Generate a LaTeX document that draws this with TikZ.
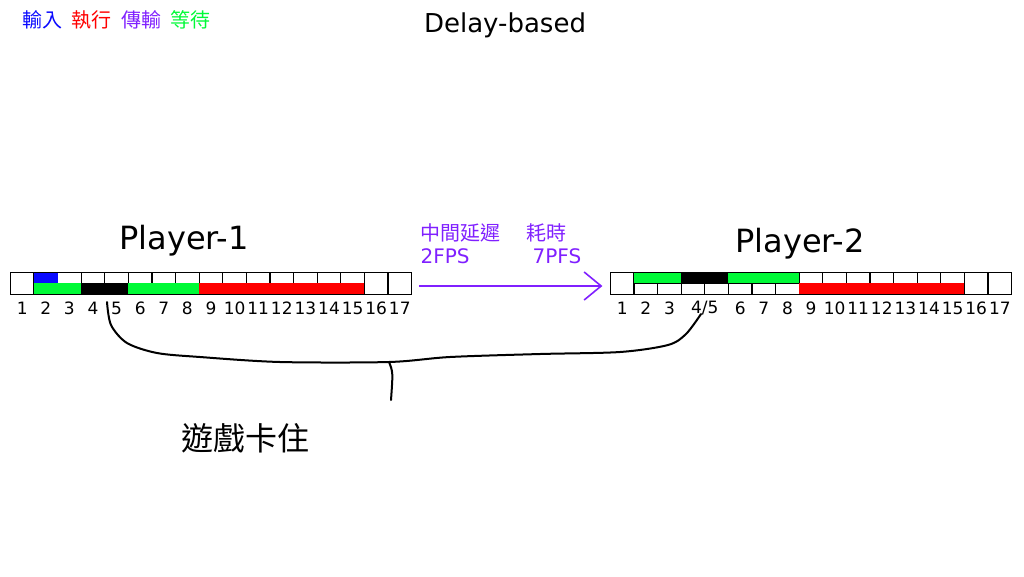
\documentclass[tikz,border=0pt]{standalone}
\usepackage{fontspec}
\setmainfont{DejaVu Sans}
\newfontfamily\cjk{Noto Sans CJK TC}
\usepackage{tikz}
\usetikzlibrary{positioning,arrows.meta}

\definecolor{inblue}{RGB}{10,10,255}
\definecolor{exred}{RGB}{255,0,0}
\definecolor{txpurple}{RGB}{128,32,255}
\definecolor{waitgreen}{RGB}{0,250,55}

\newcommand{\cw}{23.6}

\begin{document}
\begin{tikzpicture}[x=1pt, y=-1pt, line width=1.2pt,
	bar/.style={minimum width=401.2pt, minimum height=22pt, inner sep=0pt},
	num/.style={inner sep=0pt, font=\fontsize{17}{17}\selectfont},
	legend/.style={inner sep=0pt, font=\cjk\fontsize{20}{20}\selectfont},
	note/.style={inner sep=0pt, text=txpurple, anchor=base west}]
			
			\useasboundingbox (0,0) rectangle (1024,576);
			
			% Legend and title
			\node[legend, anchor=west, text=inblue] (lgin) at (22,20) {輸入};
			\node[legend, right=8pt of lgin, text=exred] (lgex) {執行};
			\node[legend, right=8pt of lgex, text=txpurple] (lgtx) {傳輸};
			\node[legend, right=8pt of lgtx, text=waitgreen] (lgwait) {等待};
			\node[inner sep=0pt, anchor=base, font=\fontsize{26}{26}\selectfont] (title) at (505,32) {Delay-based};
			
			% Player names
			\node[inner sep=0pt, anchor=base, font=\fontsize{32}{32}\selectfont] (pname1) at (184,249) {Player-1};
			\node[inner sep=0pt, anchor=base, font=\fontsize{32}{32}\selectfont] (pname2) at (800,252) {Player-2};
			
			% The two frame bars
			\node[bar] (bar1) at (211.6,284) {};
			\node[bar] (bar2) at (811.6,284) {};
			
			% Player-1 frames
			\begin{scope}[shift={(bar1.north west)}]
				\foreach \i in {1,...,16} \draw (\i*\cw,0) -- (\i*\cw,22);
				\draw (\cw,11) -- (15*\cw,11);
				\fill[inblue] (\cw,0) rectangle (2*\cw,10.5);
				\fill[waitgreen] (\cw,11) rectangle (3*\cw,22);
				\fill[black] (3*\cw,11) rectangle (5*\cw,22);
				\fill[waitgreen] (5*\cw,11) rectangle (8*\cw,22);
				\fill[exred] (8*\cw,11) rectangle (15*\cw,22);
				\draw (0,0) rectangle (17*\cw,22);
				\foreach \i in {1,...,17} \node[num] (p1n\i) at ({(\i-0.5)*\cw},36) {\i};
			\end{scope}
			
			% Player-2 frames
			\begin{scope}[shift={(bar2.north west)}]
				\foreach \i in {1,...,16} \draw (\i*\cw,0) -- (\i*\cw,22);
				\draw (\cw,11) -- (15*\cw,11);
				\fill[waitgreen] (\cw,0) rectangle (3*\cw,11);
				\fill[black] (3*\cw,0) rectangle (5*\cw,11);
				\fill[waitgreen] (5*\cw,0) rectangle (8*\cw,11);
				\fill[exred] (8*\cw,11) rectangle (15*\cw,22);
				\draw (0,0) rectangle (17*\cw,22);
				\foreach \i in {1,2,3,6,7,...,17} \node[num] (p2n\i) at ({(\i-0.5)*\cw},36) {\i};
				\node[num] (p2n45) at (4*\cw,36) {4/5};
			\end{scope}
			
			% Transfer arrow with delay
			\draw[txpurple, line width=1.6pt, -{Straight Barb[length=17pt, width=28pt]}] ([xshift=6pt, yshift=-2pt]bar1.east) -- ([xshift=-8pt, yshift=-2pt]bar2.west);
			\node[note, font=\cjk\fontsize{20}{20}\selectfont] (delay) at (420,240) {中間延遲};
			\node[note, font=\cjk\fontsize{20}{20}\selectfont] (cost) at (526,240) {耗時};
			\node[note, font=\fontsize{20}{20}\selectfont] (fps) at (420,263) {2FPS};
			\node[note, font=\fontsize{20}{20}\selectfont] (pfs) at (532,263) {7PFS};
			
			% Brace: game stuck
			\coordinate (stuckL) at (107,302);
			\coordinate (stuckR) at (701,314);
			\coordinate (stuckM) at (389,362);
			\coordinate (stuckB) at (391,400);
			\draw[line width=2pt, line cap=round] plot[smooth] coordinates {(stuckL) (111,325) (127,343) (157,353) (200,357) (280,362) (stuckM) (450,357) (540,354) (620,352) (668,345) (686,334) (stuckR)};
			\draw[line width=2pt, line cap=round] (stuckM) .. controls (393,372) .. (stuckB);
			\node[inner sep=0pt, anchor=base, font=\cjk\fontsize{32}{32}\selectfont] (stuck) at (245,450) {遊戲卡住};
			
		\end{tikzpicture}
\end{document}
